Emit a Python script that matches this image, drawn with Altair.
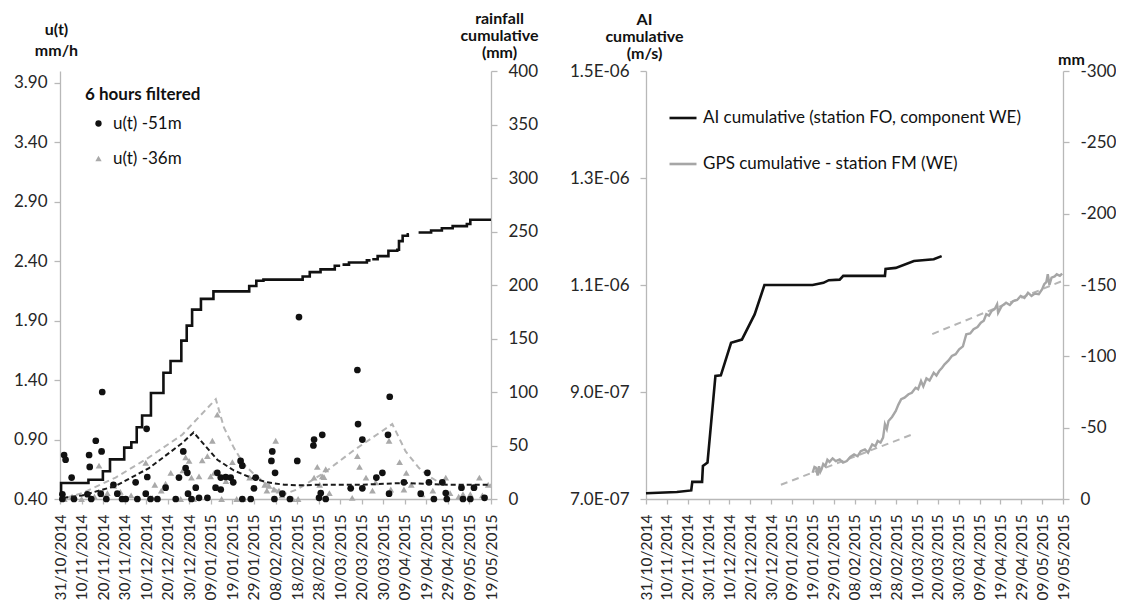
import altair as alt
import pandas as pd

START = pd.Timestamp("2014-10-31")

# ---------------- left panel data ----------------
# rainfall cumulative (mm) - step line, split in segments (small gaps in record)
rain_seg = [1]*25 + [2]*4 + [3]*8 + [4]*7
rain_day = [0, 0.5, 13.2, 19.9, 23.2, 29.8, 33.1, 35.6, 38.1, 42.2, 48.0, 51.3, 56.3, 58.8, 61.3,
            65.4, 71.2, 87.8, 91.1, 94.4, 112.6, 115.9, 120.9, 127.5, 130.0,
            131.1, 134.1, 142.4, 144.1,
            144.9, 147.4, 152.4, 156.5, 157.3, 159.0, 161.4, 161.9,
            166.4, 172.2, 177.2, 182.2, 188.8, 190.4, 200.0]
rain_mm = [4, 15, 18, 26, 37, 48, 53, 67, 78, 99, 118, 129, 148, 162, 177,
           187, 194, 199, 204, 205, 208, 212, 214.6, 218, 218,
           219, 221, 223, 223,
           224, 227, 232, 233, 241, 246, 247.5, 247.5,
           249, 251, 253, 255, 257, 261, 261]

# u(t) -51m (black dots)
u51_day = [1.1, 1.1, 1.9, 2.6, 5.4, 6.5, 12.7, 13.5, 13.8, 14.5, 16.6, 18.9, 19.3, 19.6, 21.5,
           24.8, 26.6, 28.8, 30.5, 35.1, 35.9, 39.8, 40.2, 40.5, 42.0, 45.2, 49.0, 53.7, 55.2,
           57.2, 58.3, 59.1, 59.4, 61.0, 63.0, 64.5, 68.4, 72.2, 73.0, 74.6, 74.6, 76.9, 79.2,
           80.4, 83.8, 84.6, 84.6, 88.5, 90.0, 90.8, 98.1, 98.5, 99.5, 99.8, 103.2, 106.7,
           110.1, 110.9, 117.6, 117.9, 120.2, 121.0, 121.7, 123.3, 134.9, 138.0, 138.3, 140.3,
           140.3, 146.8, 149.6, 152.2, 152.7, 153.0, 159.6, 167.4, 170.5, 171.2, 173.5, 177.4,
           179.0, 179.5, 186.3, 187.0, 190.4, 192.1, 197.0]
u51_val = [0.44, 0.40, 0.77, 0.73, 0.58, 0.40, 0.44, 0.77, 0.67, 0.40, 0.89, 0.445, 0.80, 1.30, 0.40,
           0.52, 0.445, 0.40, 0.40, 0.54, 0.40, 0.445, 0.99, 0.585, 0.40, 0.40, 0.495, 0.40, 0.58,
           0.80, 0.66, 0.62, 0.445, 0.40, 0.495, 0.41, 0.41, 0.495, 0.62, 0.58, 0.48, 0.585, 0.58,
           0.54, 0.72, 0.68, 0.40, 0.40, 0.49, 0.58, 0.72, 0.80, 0.40, 0.62, 0.445, 0.40,
           0.72, 1.93, 0.85, 0.90, 0.41, 0.45, 0.94, 0.40, 0.49, 1.485, 1.03, 0.90,
           0.49, 0.58, 0.62, 0.94, 0.445, 1.26, 0.54, 0.445, 0.62, 0.54, 0.40, 0.54,
           0.45, 0.40, 0.495, 0.40, 0.40, 0.495, 0.41]

# u(t) -36m (grey triangles)
u36_day = [2.0, 5.6, 10.0, 16.0, 18.1, 19.6, 22.0, 25.0, 28.0, 33.0, 39.8, 42.8, 44.0, 47.0, 49.0,
           51.4, 56.0, 57.0, 58.3, 59.9, 61.0, 62.0, 64.5, 66.0, 68.4, 69.9, 70.7, 71.5, 73.0,
           75.0, 77.0, 80.0, 82.0, 85.0, 88.0, 95.0, 96.0, 97.0, 99.3, 100.1, 101.6, 103.0,
           108.0, 110.5, 117.9, 119.4, 120.5, 121.7, 123.3, 122.5, 125.0, 135.6, 138.0, 139.0,
           142.0, 145.0, 146.5, 152.7, 153.5, 157.6, 159.6, 160.7, 163.0, 168.0, 173.0, 179.0,
           181.0, 185.0, 187.0, 190.4, 194.6, 196.0, 198.7]
u36_val = [0.40, 0.42, 0.40, 0.42, 0.68, 0.44, 0.45, 0.51, 0.46, 0.43, 0.705, 0.41, 0.52, 0.47, 0.53,
           0.62, 0.40, 0.64, 0.75, 0.72, 0.58, 0.40, 0.59, 0.725, 0.76, 0.59, 0.89, 0.62, 1.11,
           0.40, 0.55, 0.71, 0.40, 0.40, 0.58, 0.52, 0.47, 0.51, 0.48, 0.89, 0.47, 0.43,
           0.40, 0.40, 0.58, 0.67, 0.52, 0.59, 0.65, 0.585, 0.45, 0.41, 0.76, 0.67,
           0.58, 0.47, 0.54, 0.89, 0.48, 0.71, 0.48, 0.62, 0.52, 0.44, 0.47, 0.58,
           0.45, 0.42, 0.44, 0.44, 0.58, 0.43, 0.52]

# dashed fitted curves (left axis)
fit51_day = [1.5, 10.3, 25.8, 41.3, 56.7, 62.0, 66.8, 73.0, 80.7, 88.5, 96.2, 104.0, 112.0, 120.0,
             140.0, 159.6, 180.0, 200.0]
fit51_val = [0.41, 0.43, 0.51, 0.66, 0.87, 0.96, 0.86, 0.73, 0.64, 0.58, 0.54, 0.52, 0.515, 0.52,
             0.52, 0.535, 0.52, 0.52]
fit36_day = [3.0, 10.3, 25.8, 41.3, 56.7, 72.3, 76.1, 80.7, 85.4, 90.0, 96.2, 100.8, 104.0, 110.0,
             116.3, 122.5, 135.6, 154.2, 160.4, 166.6, 171.2, 175.9, 180.0]
fit36_val = [0.41, 0.45, 0.58, 0.75, 0.94, 1.24, 1.00, 0.83, 0.69, 0.61, 0.52, 0.47, 0.44, 0.48,
             0.55, 0.62, 0.80, 1.03, 0.80, 0.66, 0.59, 0.54, 0.52]

u_ticks = [0.40, 0.90, 1.40, 1.90, 2.40, 2.90, 3.40, 3.90]
rain_ticks = [0, 50, 100, 150, 200, 250, 300, 350, 400]

# ---------------- right panel data ----------------
ai_day = [0, 14.8, 21.7, 22.2, 26.9, 27.3, 29.5, 33.3, 35.9, 40.8, 46.0, 52.1, 56.8, 79.9, 85.1,
          87.7, 92.9, 94.6, 114.6, 114.9, 119.8, 128.5, 138.0, 141.8]
ai_val = [7.107e-7, 7.13e-7, 7.16e-7, 7.32e-7, 7.32e-7, 7.62e-7, 7.68e-7, 9.30e-7, 9.31e-7,
          9.92e-7, 9.98e-7, 1.045e-6, 1.100e-6, 1.100e-6, 1.104e-6, 1.109e-6, 1.110e-6,
          1.117e-6, 1.117e-6, 1.130e-6, 1.132e-6, 1.145e-6, 1.148e-6, 1.154e-6]

gps_day = [79.9, 80.8, 81.6, 82.3, 83.0, 83.6, 84.2, 85.0, 86.0, 87.0, 88.0, 89.5, 91.0, 92.9, 94.5,
           96.3, 98.0, 99.8, 101.5, 103.0, 105.0, 106.5, 108.5, 110.0, 111.1, 112.5, 113.7, 114.6,
           115.5, 116.3, 118.0, 119.8, 121.0, 122.4, 124.0, 125.9, 127.5, 129.3, 130.5, 131.9,
           133.0, 134.5, 136.0, 138.0, 139.3, 140.6, 142.0, 143.2, 145.0, 146.7, 148.5, 150.2,
           152.0, 153.6, 155.5, 157.1, 159.0, 160.6, 162.0, 163.2, 164.5, 165.8, 167.2, 168.4,
           168.9, 170.5, 172.7, 174.5, 176.2, 178.0, 179.7, 181.5, 183.2, 184.9, 186.5, 188.4,
           190.0, 191.0, 192.0, 192.7, 193.5, 194.5, 196.0, 197.0, 198.5, 199.6]
gps_mm = [-18.4, -22.5, -21.9, -16.5, -23.0, -19.0, -20.8, -24.5, -23.0, -27.5, -26.0, -28.5, -26.5,
          -27.8, -25.5, -26.6, -29.5, -31.3, -30.0, -33.5, -34.8, -32.5, -38.3, -37.0, -40.7, -39.5,
          -43.0, -52.4, -49.0, -54.7, -57.5, -61.7, -66.0, -69.9, -71.0, -73.4, -74.5, -78.0, -77.0,
          -82.7, -79.0, -84.5, -83.0, -88.5, -86.5, -89.7, -92.0, -94.4, -97.0, -100.2, -101.5,
          -104.9, -107.0, -115.4, -116.0, -119.0, -120.5, -123.6, -125.0, -129.5, -128.5, -131.8,
          -133.0, -136.5, -130.5, -135.0, -137.6, -136.0, -138.8, -139.5, -142.3, -141.0, -144.6,
          -142.3, -144.0, -143.5, -147.0, -150.5, -152.0, -157.5, -150.0, -155.2, -156.0, -157.5,
          -156.5, -158.0]

trend_seg = [1, 1, 2, 2]
trend_day = [64.7, 128.0, 137.3, 199.6]
trend_mm = [-10.0, -45.4, -115.6, -152.8]

ai_ticks = [7e-7, 9e-7, 1.1e-6, 1.3e-6, 1.5e-6]
mm_ticks = [0, -50, -100, -150, -200, -250, -300]

date_ticks = ["2014-10-31", "2014-11-10", "2014-11-20", "2014-11-30", "2014-12-10", "2014-12-20",
              "2014-12-30", "2015-01-09", "2015-01-19", "2015-01-29", "2015-02-08", "2015-02-18",
              "2015-02-28", "2015-03-10", "2015-03-20", "2015-03-30", "2015-04-09", "2015-04-19",
              "2015-04-29", "2015-05-09", "2015-05-19"]

S_LEFT = ["u(t) -51m", "u(t) -36m"]
S_RIGHT = ["AI cumulative (station FO, component WE)", "GPS cumulative -  station FM (WE)"]


def to_dates(days):
    return [(START + pd.Timedelta(days=float(d))).strftime("%Y-%m-%dT%H:%M:%S") for d in days]


def dt(s):
    y, m, d = s.split("-")
    return alt.DateTime(year=int(y), month=int(m), date=int(d))


rain_df = pd.DataFrame({"date": to_dates(rain_day), "mm": rain_mm, "seg": rain_seg})
pts_df = pd.DataFrame({
    "date": to_dates(u36_day) + to_dates(u51_day),
    "u": u36_val + u51_val,
    "series": [S_LEFT[1]] * len(u36_day) + [S_LEFT[0]] * len(u51_day),
})
fit_df = pd.DataFrame({
    "date": to_dates(fit51_day) + to_dates(fit36_day),
    "u": fit51_val + fit36_val,
    "curve": ["51"] * len(fit51_day) + ["36"] * len(fit36_day),
})
ai_df = pd.DataFrame({"date": to_dates(ai_day), "ai": ai_val, "series": S_RIGHT[0]})
gps_df = pd.DataFrame({"date": to_dates(gps_day), "mm": gps_mm, "series": S_RIGHT[1]})
trend_df = pd.DataFrame({"date": to_dates(trend_day), "mm": trend_mm, "seg": trend_seg})

FONT = "Lato"
TFS = 16  # axis title font size
x_scale = alt.Scale(domain=[dt(date_ticks[0]), dt(date_ticks[-1])])
x_axis = alt.Axis(values=[dt(s) for s in date_ticks], format="%d/%m/%Y", labelAngle=270,
                  labelOverlap=False, labelFlush=False, tickSize=5, labelPadding=10,
                  labelFontSize=15.5, title=None)
X = alt.X("date:T", scale=x_scale, axis=x_axis)

u_scale = alt.Scale(domain=[0.4, 4.0], nice=False, zero=False)
rain_scale = alt.Scale(domain=[0, 400], nice=False, zero=False)

rain = alt.Chart(rain_df).mark_line(interpolate="step-after", color="#111111", strokeWidth=2.6).encode(
    x=X,
    y=alt.Y("mm:Q", scale=rain_scale,
            axis=alt.Axis(orient="right", values=rain_ticks, title=["rainfall", "cumulative", "(mm)"],
                          titleAngle=0, titleAlign="center", titleBaseline="bottom", titleX=8,
                          titleY=-45, titleLineHeight=17, tickSize=6, labelPadding=11)),
    detail="seg:N",
)

leg_left = alt.Legend(title="6 hours filtered", orient="none", legendX=25, legendY=16,
                      titleFont=FONT, titleFontSize=17, titleFontWeight="bold", titleColor="#111111",
                      labelFont=FONT, labelFontSize=17, labelColor="#111111", symbolSize=40,
                      rowPadding=17, titlePadding=11, symbolOffset=5, labelOffset=6, padding=0,
                      labelLimit=400)

pts = alt.Chart(pts_df).mark_point(filled=True, opacity=1, size=45).encode(
    x=X,
    y=alt.Y("u:Q", scale=u_scale,
            axis=alt.Axis(orient="left", values=u_ticks, format=".2f", title=["u(t)", "mm/h"],
                          titleAngle=0, titleAlign="center", titleBaseline="bottom", titleX=-4,
                          titleY=-34, titleLineHeight=21, tickSize=6, labelPadding=7)),
    color=alt.Color("series:N", scale=alt.Scale(domain=S_LEFT, range=["#111111", "#a9a9a9"]),
                    legend=leg_left),
    shape=alt.Shape("series:N", scale=alt.Scale(domain=S_LEFT, range=["circle", "triangle-up"]),
                    legend=leg_left),
)

fit36 = alt.Chart(fit_df).transform_filter(alt.datum.curve == "36").mark_line(
    strokeDash=[6, 4], strokeWidth=2, color="#b5b5b5").encode(
    x=X, y=alt.Y("u:Q", scale=u_scale, axis=None))
fit51 = alt.Chart(fit_df).transform_filter(alt.datum.curve == "51").mark_line(
    strokeDash=[5, 3], strokeWidth=2, color="#1a1a1a").encode(
    x=X, y=alt.Y("u:Q", scale=u_scale, axis=None))

left = alt.layer(rain, fit36, pts, fit51).resolve_scale(y="independent").properties(
    width=431, height=428)

# ---------------- right panel ----------------
ai_scale = alt.Scale(domain=[7e-7, 1.5e-6], nice=False, zero=False)
mm_scale = alt.Scale(domain=[-300, 0], reverse=True, nice=False, zero=False)

leg_right = alt.Legend(title=None, orient="none", legendX=22, legendY=32, symbolType="stroke",
                       symbolSize=729, symbolStrokeWidth=2.6, labelFont=FONT, labelFontSize=17,
                       labelColor="#111111", rowPadding=23, labelOffset=5, padding=0,
                       labelLimit=500)
right_color = alt.Color("series:N", scale=alt.Scale(domain=S_RIGHT, range=["#111111", "#a6a6a6"]),
                        legend=leg_right)

ai_label = ("datum.value >= 9.99e-7 ? format(datum.value * 1e6, '.1f') + 'E-06' : "
            "format(datum.value * 1e7, '.1f') + 'E-07'")
mm_label = "datum.value < 0 ? '-' + format(-datum.value, 'd') : format(datum.value, 'd')"

ai = alt.Chart(ai_df).mark_line(strokeWidth=2.6).encode(
    x=X,
    y=alt.Y("ai:Q", scale=ai_scale,
            axis=alt.Axis(orient="left", values=ai_ticks, labelExpr=ai_label,
                          title=["AI", "cumulative", "(m/s)"], titleAngle=0, titleAlign="center",
                          titleBaseline="bottom", titleX=-2, titleY=-44, titleLineHeight=17,
                          tickSize=6, labelPadding=11)),
    color=right_color,
)
trend = alt.Chart(trend_df).mark_line(strokeDash=[7, 5], strokeWidth=2, color="#b5b5b5").encode(
    x=X, y=alt.Y("mm:Q", scale=mm_scale, axis=None), detail="seg:N")
gps = alt.Chart(gps_df).mark_line(strokeWidth=2.4).encode(
    x=X,
    y=alt.Y("mm:Q", scale=mm_scale,
            axis=alt.Axis(orient="right", values=mm_ticks, labelExpr=mm_label, title="mm",
                          titleAngle=0, titleAlign="center", titleBaseline="bottom", titleX=8,
                          titleY=-4, tickSize=6, labelPadding=11)),
    color=right_color,
)

right = alt.layer(ai, trend, gps).resolve_scale(y="independent").properties(width=417, height=428)

chart = alt.hconcat(left, right, spacing=30).resolve_scale(
    color="independent", shape="independent"
).resolve_legend(color="independent", shape="independent").properties(
    padding={"left": 5, "top": 2, "right": 0, "bottom": 0}
).configure_axis(
    labelFont=FONT, labelFontSize=17, labelColor="#262626",
    titleFont=FONT, titleFontSize=TFS, titleFontWeight="bold", titleColor="#111111",
    domainColor="#b8b8b8", tickColor="#b8b8b8", domainWidth=1.3, tickWidth=1.3,
    grid=False, labelFlush=False,
).configure_view(stroke=None)

chart.save("out.html", embed_options={"renderer": "svg", "actions": False})
